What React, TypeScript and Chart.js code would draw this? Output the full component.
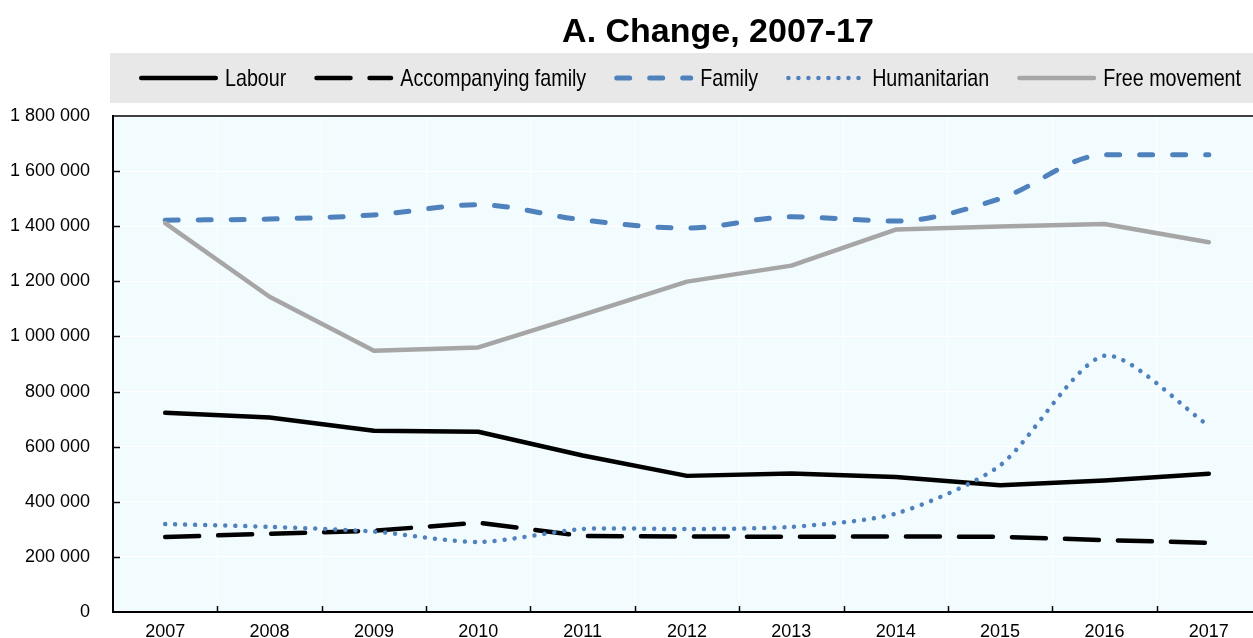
import { useEffect, useRef } from 'react';
import { Chart, registerables } from 'chart.js';

Chart.register(...registerables);

const years = ['2007', '2008', '2009', '2010', '2011', '2012', '2013', '2014', '2015', '2016', '2017'];
const labour = [723000, 706000, 658000, 654000, 568000, 494000, 503000, 490000, 460000, 477000, 502000];
const accompanyingFamily = [272000, 284000, 295000, 324000, 276000, 274000, 273000, 274000, 273000, 261000, 251000];
const family = [1422000, 1426000, 1441000, 1478000, 1423000, 1393000, 1434000, 1419000, 1500000, 1659000, 1659000];
const humanitarian = [319000, 309000, 292000, 254000, 301000, 301000, 309000, 357000, 532000, 930000, 676000];
const freeMovement = [1411000, 1144000, 948000, 960000, 1078000, 1199000, 1257000, 1388000, 1399000, 1408000, 1342000];
const yTicks = [0, 200000, 400000, 600000, 800000, 1000000, 1200000, 1400000, 1600000, 1800000];
const seriesNames = ['Labour', 'Accompanying family', 'Family', 'Humanitarian', 'Free movement'];
const titleText = 'A. Change, 2007-17';

const BLUE = '#4f81bd';
const GREY = '#a6a6a6';
const PLOT_BG = '#f2fbfe';
const LEGEND_BG = '#e8e8e8';

function fontAvailable(name: string): boolean {
  const ctx = document.createElement('canvas').getContext('2d');
  if (!ctx) return false;
  const s = 'Labour 1 800 000 mmmiiiWW';
  ctx.font = `40px "${name}", monospace`;
  const a = ctx.measureText(s).width;
  ctx.font = `40px "${name}", serif`;
  const b = ctx.measureText(s).width;
  return Math.abs(a - b) < 0.01;
}

const fmt = (v: number) => String(v).replace(/\B(?=(\d{3})+(?!\d))/g, ' ');

export default function App() {
  const ref = useRef<HTMLCanvasElement | null>(null);

  useEffect(() => {
    if (!ref.current) return;
    const narrow = fontAvailable('Liberation Sans Narrow');
    const tickFamily = narrow ? '"Liberation Sans Narrow", "Liberation Sans", Arial, sans-serif' : '"Liberation Sans", Arial, sans-serif';
    const tickSize = narrow ? 21 : 18;
    const legendScaleX = narrow ? 1 : 0.82;
    const legendFont = narrow ? '24px "Liberation Sans Narrow", "Liberation Sans", Arial, sans-serif' : '24px "Liberation Sans", Arial, sans-serif';

    const decor = {
      id: 'decor',
      beforeDraw(chart: any) {
        const { ctx, chartArea: a } = chart;
        ctx.save();
        ctx.fillStyle = PLOT_BG;
        ctx.fillRect(a.left, a.top, a.right - a.left, a.bottom - a.top);
        ctx.restore();
      },
      afterDraw(chart: any) {
        const { ctx, chartArea: a } = chart;
        const xs = chart.scales.x;
        const ys = chart.scales.y;
        ctx.save();
        // top border
        ctx.strokeStyle = '#000';
        ctx.lineWidth = 1.5;
        ctx.beginPath();
        ctx.moveTo(a.left - 1, a.top);
        ctx.lineTo(a.right, a.top);
        ctx.stroke();
        // inward tick marks
        ctx.lineWidth = 1.5;
        ys.ticks.forEach((t: any) => {
          if (t.value <= 0 || t.value >= 1800000) return;
          const y = Math.round(ys.getPixelForValue(t.value)) + 0.5;
          ctx.beginPath();
          ctx.moveTo(a.left, y);
          ctx.lineTo(a.left + 7, y);
          ctx.stroke();
        });
        const step = xs.getPixelForValue(1) - xs.getPixelForValue(0);
        for (let i = 1; i < years.length; i++) {
          const x = Math.round(xs.getPixelForValue(i) - step / 2) + 0.5;
          ctx.beginPath();
          ctx.moveTo(x, a.bottom);
          ctx.lineTo(x, a.bottom - 6);
          ctx.stroke();
        }
        // title
        ctx.fillStyle = '#000';
        ctx.font = 'bold 34px "Liberation Sans", Arial, sans-serif';
        ctx.textAlign = 'center';
        ctx.textBaseline = 'alphabetic';
        ctx.fillText(titleText, 718, 42);
        // legend
        ctx.fillStyle = LEGEND_BG;
        ctx.fillRect(110, 53, chart.width - 110, 50);
        ctx.font = legendFont;
        ctx.textAlign = 'left';
        const sampleW = 79;
        const gapText = 7;
        const gapItem = 28;
        const widths = chart.data.datasets.map((d: any) => ctx.measureText(d.label).width * legendScaleX);
        const total = widths.reduce((s: number, w: number) => s + sampleW + gapText + w, 0) + gapItem * (widths.length - 1);
        let x = 690 - total / 2;
        chart.data.datasets.forEach((d: any, i: number) => {
          ctx.save();
          ctx.strokeStyle = d.borderColor;
          ctx.lineWidth = d.borderWidth;
          ctx.lineCap = d.borderCapStyle || 'round';
          ctx.setLineDash(d.borderDash || []);
          ctx.beginPath();
          const cap = d.borderWidth / 2;
          ctx.moveTo(x + cap, 78);
          ctx.lineTo(x + sampleW - cap, 78);
          ctx.stroke();
          ctx.restore();
          ctx.save();
          ctx.fillStyle = '#000';
          ctx.font = legendFont;
          ctx.translate(x + sampleW + gapText, 86);
          ctx.scale(legendScaleX, 1);
          ctx.fillText(d.label, 0, 0);
          ctx.restore();
          x += sampleW + gapText + widths[i] + gapItem;
        });
        ctx.restore();
      },
    };

    const common = { pointRadius: 0, pointHoverRadius: 0, fill: false, borderCapStyle: 'round', borderJoinStyle: 'round' };

    const chart = new Chart(ref.current, {
      type: 'line',
      data: {
        labels: years,
        datasets: [
          { ...common, label: seriesNames[0], data: labour, borderColor: '#000', borderWidth: 4.5, borderDash: [], tension: 0, order: 5 },
          { ...common, label: seriesNames[1], data: accompanyingFamily, borderColor: '#000', borderWidth: 4.5, borderDash: [34, 19], tension: 0, order: 4 },
          { ...common, label: seriesNames[2], data: family, borderColor: BLUE, borderWidth: 5, borderDash: [13, 20], cubicInterpolationMode: 'monotone', order: 3 },
          { ...common, label: seriesNames[3], data: humanitarian, borderColor: BLUE, borderWidth: 4.5, borderDash: [0.01, 10], tension: 0.25, order: 2 },
          { ...common, label: seriesNames[4], data: freeMovement, borderColor: GREY, borderWidth: 4.5, borderDash: [], tension: 0, order: 1 },
        ] as any,
      },
      options: {
        responsive: false,
        animation: false,
        devicePixelRatio: 1,
        layout: { padding: { top: 116, right: 1, left: 0, bottom: 0 } },
        plugins: {
          legend: { display: false },
          title: { display: false },
          tooltip: { enabled: false },
        },
        scales: {
          x: {
            type: 'category',
            offset: true,
            grid: { offset: true, color: '#ffffff', lineWidth: 1, drawTicks: false },
            border: { display: true, color: '#000', width: 2 },
            ticks: {
              color: '#000',
              padding: 9,
              autoSkip: false,
              maxRotation: 0,
              font: { family: tickFamily, size: tickSize },
            },
            afterFit(scale: any) {
              scale.height = 26;
            },
          },
          y: {
            type: 'linear',
            min: 0,
            max: 1800000,
            grid: { color: '#ffffff', lineWidth: 1, drawTicks: true, tickLength: 23, tickColor: 'rgba(0,0,0,0)' },
            border: { display: true, color: '#000', width: 2 },
            ticks: {
              color: '#000',
              padding: 0,
              font: { family: tickFamily, size: tickSize },
              callback: (v: any) => fmt(Number(v)),
            },
            afterBuildTicks(scale: any) {
              scale.ticks = yTicks.map((v) => ({ value: v }));
            },
            afterFit(scale: any) {
              scale.width = 113;
            },
          },
        },
      },
      plugins: [decor],
    } as any);

    return () => chart.destroy();
  }, []);

  return (
    <div style={{ position: 'fixed', left: 0, top: 0, width: 1253, height: 638, overflow: 'hidden', background: '#fff' }}>
      <canvas ref={ref} width={1262} height={638} style={{ display: 'block', width: 1262, height: 638 }} />
    </div>
  );
}
